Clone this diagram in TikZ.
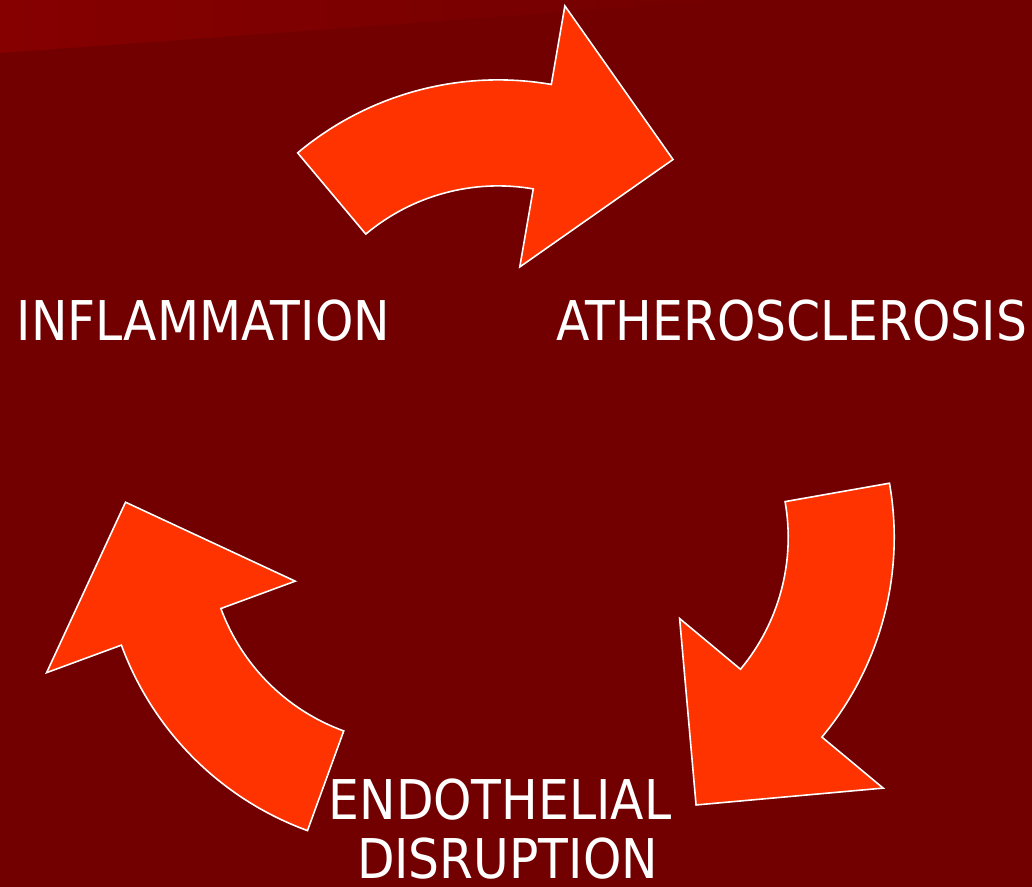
\documentclass[tikz,border=0pt]{standalone}
\usepackage{fontspec}
\setmainfont[FakeStretch=0.89]{DejaVu Sans}
\usetikzlibrary{calc}

\definecolor{slidebg}{HTML}{730000}
\definecolor{slidetop}{HTML}{860000}
\definecolor{arrowfill}{HTML}{FF3300}

\begin{document}
\begin{tikzpicture}[x=0.5pt, y=0.5pt,
  cyclearrow/.style={fill=arrowfill, draw=white, line width=0.8pt, line join=miter},
  cycletext/.style={text=white, font=\fontsize{27.4}{32}\selectfont, inner sep=0pt, anchor=base}]
  \fill[slidebg] (0,0) rectangle (1032,887);
  \shade[left color=slidetop, right color=slidebg] (0,834) -- (729,887) -- (0,887) -- cycle;
  \useasboundingbox (0,0) rectangle (1032,887);
  \coordinate (C0) at (498.2,398.1);
  % three arrows round the cycle
  \foreach \ang in {0,-120,120}{
    \begin{scope}[shift={(C0)}, rotate=\ang, shift={(0,97)}]
      \draw[cyclearrow] (130:312) arc[start angle=130, end angle=80.2, radius=312]
        -- (80.2:391.7) -- (53.05:290.8) -- (80.2:126.8) -- (80.2:206)
        arc[start angle=80.2, end angle=130, radius=206] -- cycle;
    \end{scope}
  }
  % labels
  \node[cycletext] (infl) at (203.3,546) {INFLAMMATION};
  \node[cycletext] (athero) at (791.7,546) {ATHEROSCLEROSIS};
  \node[cycletext] (endo) at (500,67.7) {ENDOTHELIAL};
  \node[cycletext] (disr) at (507.5,8) {DISRUPTION};
\end{tikzpicture}
\end{document}
